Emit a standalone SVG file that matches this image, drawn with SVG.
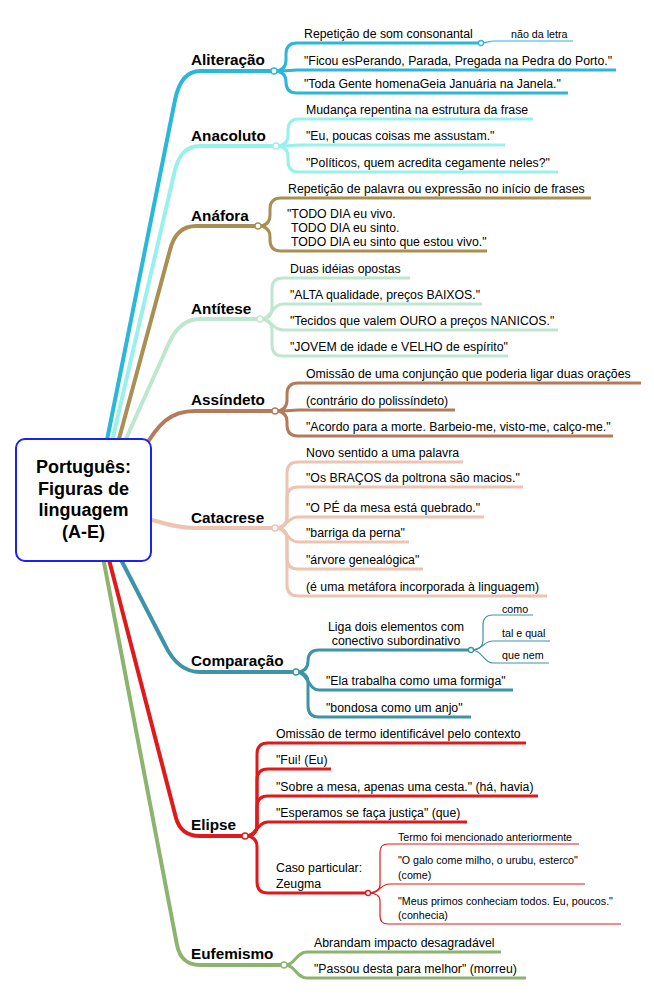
<svg xmlns="http://www.w3.org/2000/svg" width="654" height="1000" viewBox="0 0 654 1000">
<style>
text{font-family:"Liberation Sans",Arial,sans-serif;fill:#000}
.t{font-size:12.3px}
.s{font-size:10.7px}
.m{font-size:15.3px;font-weight:bold}
.c{font-size:18px;font-weight:bold;text-anchor:middle}
path{fill:none;stroke-linejoin:round}
.b{stroke-width:4}
.k{stroke-width:3}
.f{stroke-width:1.2}
.dot{fill:#fff;stroke-width:1.3}
.ali{stroke:#2bb6dc}.ana{stroke:#98f1ea}.anf{stroke:#a99052}.ant{stroke:#bfe6cf}.ass{stroke:#b57a5c}.cat{stroke:#ecc4b1}.cmp{stroke:#3d93a7}.eli{stroke:#e01a1a}.euf{stroke:#8db46e}
</style>
<rect width="654" height="1000" fill="#fff"/>
<g id="connectors">
<path class="b ali" d="M105,450 L175,100 Q181,71 200,71 L274,71"/>
<path class="b ana" d="M110,450 L175,170 Q181,146 200,146 L276,146"/>
<path class="b anf" d="M116,450 L170,250 Q176,226 196,226 L258,226"/>
<path class="b ant" d="M121,450 L169,343 Q180,319 200,319 L260,319"/>
<path class="b ass" d="M143,450 C158,424 170,411 195,411 L275,411"/>
<path class="b cat" d="M140,517 C160,521 172,528 195,528 L275,528"/>
<path class="b cmp" d="M117,552 L165,645 Q178,672 200,672 L296,672"/>
<path class="b eli" d="M107,552 L176,818 Q181,836 200,836 L245,836"/>
<path class="b euf" d="M102,552 L177,945 Q181,965 200,965 L284,965"/>

<path class="k ali" d="M274,71 Q286,71 286,60 L286,54 Q286,43 297,43 L481,43"/>
<path class="k ali" d="M274,71 Q286,71 297,70 L616,70"/>
<path class="k ali" d="M274,71 Q286,71 286,82 Q286,93 297,93 L568,93"/>
<path class="f ali" d="M481,43 C488,43 488,41 494,41 L573,41"/>

<path class="k ana" d="M276,146 Q288,146 288,135 L288,130 Q288,119 299,119 L533,119"/>
<path class="k ana" d="M276,146 Q288,146 299,145 L505,145"/>
<path class="k ana" d="M276,146 Q288,146 288,157 L288,161 Q288,172 299,172 L558,172"/>

<path class="k anf" d="M258,226 Q270,226 270,215 L270,209 Q270,198 281,198 L591,198"/>
<path class="k anf" d="M258,226 Q270,226 270,237 L270,240 Q270,251 281,251 L487,251"/>

<path class="k ant" d="M260,319 Q272,319 272,308 L272,289 Q272,278 283,278 L410,278"/>
<path class="k ant" d="M260,319 C272,319 272,304 283,304 L482,304"/>
<path class="k ant" d="M260,319 C272,319 272,330 283,330 L558,330"/>
<path class="k ant" d="M260,319 Q272,319 272,330 L272,345 Q272,356 283,356 L508,356"/>

<path class="k ass" d="M275,411 Q287,411 287,400 L287,394 Q287,383 298,383 L641,383"/>
<path class="k ass" d="M275,411 Q287,411 298,410 L455,410"/>
<path class="k ass" d="M275,411 Q287,411 287,422 L287,425 Q287,436 298,436 L613,436"/>

<path class="k cat" d="M275,528 Q287,528 287,517 L287,473 Q287,462 298,462 L463,462"/>
<path class="k cat" d="M275,528 Q287,528 287,517 L287,498 Q287,487 298,487 L523,487"/>
<path class="k cat" d="M275,528 C287,528 287,517 298,517 L484,517"/>
<path class="k cat" d="M275,528 C287,528 287,542 298,542 L409,542"/>
<path class="k cat" d="M275,528 Q287,528 287,539 L287,558 Q287,569 298,569 L423,569"/>
<path class="k cat" d="M275,528 Q287,528 287,539 L287,585 Q287,596 298,596 L547,596"/>

<path class="k cmp" d="M296,672 Q308,672 308,661 Q308,650 319,650 L471,650"/>
<path class="k cmp" d="M296,672 C308,672 308,690 319,690 L513,690"/>
<path class="k cmp" d="M296,672 Q308,672 308,683 L308,706 Q308,717 319,717 L471,717"/>
<path class="f cmp" d="M471,650 Q483,650 483,640 L483,625 Q483,615 493,615 L533,615"/>
<path class="f cmp" d="M471,650 C483,650 483,641 493,641 L550,641"/>
<path class="f cmp" d="M471,650 C483,650 483,663 493,663 L549,663"/>

<path class="k eli" d="M245,836 Q257,836 257,825 L257,754 Q257,743 268,743 L526,743"/>
<path class="k eli" d="M245,836 Q257,836 257,825 L257,780 Q257,769 268,769 L331,769"/>
<path class="k eli" d="M245,836 Q257,836 257,825 L257,807 Q257,796 268,796 L538,796"/>
<path class="k eli" d="M245,836 C257,836 257,822 268,822 L467,822"/>
<path class="k eli" d="M245,836 Q257,836 257,847 L257,882 Q257,893 268,893 L368,893"/>
<path class="f eli" d="M368,893 Q380,893 380,885 L380,852 Q380,844 388,844 L579,844"/>
<path class="f eli" d="M368,893 C380,893 380,884 390,884 L585,884"/>
<path class="f eli" d="M368,893 Q380,893 380,901 L380,916 Q380,924 388,924 L621,924"/>

<path class="k euf" d="M284,965 C296,965 296,952 307,952 L501,952"/>
<path class="k euf" d="M284,965 C296,965 296,978 307,978 L526,978"/>
</g>

<g id="central">
<rect x="16" y="439" width="135" height="122" rx="9" fill="#fff" stroke="#1c22f2" stroke-width="2"/>
<text class="c" x="83.5" y="473">Português:</text>
<text class="c" x="83.5" y="494.5">Figuras de</text>
<text class="c" x="83.5" y="516">linguagem</text>
<text class="c" x="83.5" y="537.5">(A-E)</text>
</g>

<g id="aliteracao">
<text class="m" x="191" y="65">Aliteração</text>
<circle class="dot ali" cx="274" cy="71" r="3"/>
<text class="t" x="304" y="38">Repetição de som consonantal</text>
<circle class="dot ali" cx="481" cy="43" r="2.5"/>
<text class="s" x="511" y="38">não da letra</text>
<text class="t" x="304" y="65">"Ficou esPerando, Parada, Pregada na Pedra do Porto."</text>
<text class="t" x="304" y="88">"Toda Gente homenaGeia Januária na Janela."</text>
</g>

<g id="anacoluto">
<text class="m" x="191" y="141">Anacoluto</text>
<circle class="dot ana" cx="276" cy="146" r="3"/>
<text class="t" x="306" y="114">Mudança repentina na estrutura da frase</text>
<text class="t" x="306" y="140">"Eu, poucas coisas me assustam."</text>
<text class="t" x="306" y="167">"Políticos, quem acredita cegamente neles?"</text>
</g>

<g id="anafora">
<text class="m" x="191" y="221">Anáfora</text>
<circle class="dot anf" cx="258" cy="226" r="3"/>
<text class="t" x="288" y="193">Repetição de palavra ou expressão no início de frases</text>
<text class="t" x="287" y="218">"TODO DIA eu vivo.</text>
<text class="t" x="291" y="232">TODO DIA eu sinto.</text>
<text class="t" x="291" y="246">TODO DIA eu sinto que estou vivo."</text>
</g>

<g id="antitese">
<text class="m" x="191" y="314">Antítese</text>
<circle class="dot ant" cx="260" cy="319" r="3"/>
<text class="t" x="290" y="273">Duas idéias opostas</text>
<text class="t" x="290" y="299">"ALTA qualidade, preços BAIXOS."</text>
<text class="t" x="290" y="325">"Tecidos que valem OURO a preços NANICOS."</text>
<text class="t" x="290" y="351">"JOVEM de idade e VELHO de espírito"</text>
</g>

<g id="assindeto">
<text class="m" x="191" y="405">Assíndeto</text>
<circle class="dot ass" cx="275" cy="411" r="3"/>
<text class="t" x="306" y="378">Omissão de uma conjunção que poderia ligar duas orações</text>
<text class="t" x="306" y="405">(contrário do polissíndeto)</text>
<text class="t" x="306" y="431">"Acordo para a morte. Barbeio-me, visto-me, calço-me."</text>
</g>

<g id="catacrese">
<text class="m" x="191" y="523">Catacrese</text>
<circle class="dot cat" cx="275" cy="528" r="3"/>
<text class="t" x="306" y="457">Novo sentido a uma palavra</text>
<text class="t" x="306" y="482">"Os BRAÇOS da poltrona são macios."</text>
<text class="t" x="306" y="512">"O PÉ da mesa está quebrado."</text>
<text class="t" x="306" y="537">"barriga da perna"</text>
<text class="t" x="306" y="564">"árvore genealógica"</text>
<text class="t" x="306" y="591">(é uma metáfora incorporada à linguagem)</text>
</g>

<g id="comparacao">
<text class="m" x="191" y="666">Comparação</text>
<circle class="dot cmp" cx="296" cy="672" r="3"/>
<text class="t" x="396" y="631" text-anchor="middle">Liga dois elementos com</text>
<text class="t" x="396" y="645" text-anchor="middle">conectivo subordinativo</text>
<circle class="dot cmp" cx="471" cy="650" r="2.5"/>
<text class="s" x="502" y="613">como</text>
<text class="s" x="502" y="637">tal e qual</text>
<text class="s" x="502" y="659">que nem</text>
<text class="t" x="326" y="685">"Ela trabalha como uma formiga"</text>
<text class="t" x="326" y="712">"bondosa como um anjo"</text>
</g>

<g id="elipse">
<text class="m" x="191" y="830">Elipse</text>
<circle class="dot eli" cx="245" cy="836" r="3"/>
<text class="t" x="276" y="738">Omissão de termo identificável pelo contexto</text>
<text class="t" x="276" y="764">"Fui! (Eu)</text>
<text class="t" x="276" y="791">"Sobre a mesa, apenas uma cesta." (há, havia)</text>
<text class="t" x="276" y="817">"Esperamos se faça justiça" (que)</text>
<text class="t" x="276" y="872">Caso particular:</text>
<text class="t" x="276" y="888">Zeugma</text>
<circle class="dot eli" cx="368" cy="893" r="2.5"/>
<text class="s" x="398" y="841">Termo foi mencionado anteriormente</text>
<text class="s" x="398" y="864">"O galo come milho, o urubu, esterco"</text>
<text class="s" x="398" y="879">(come)</text>
<text class="s" x="398" y="905">"Meus primos conheciam todos. Eu, poucos."</text>
<text class="s" x="398" y="919">(conhecia)</text>
</g>

<g id="eufemismo">
<text class="m" x="191" y="959">Eufemismo</text>
<circle class="dot euf" cx="284" cy="965" r="3"/>
<text class="t" x="314" y="947">Abrandam impacto desagradável</text>
<text class="t" x="314" y="973">"Passou desta para melhor" (morreu)</text>
</g>
</svg>
